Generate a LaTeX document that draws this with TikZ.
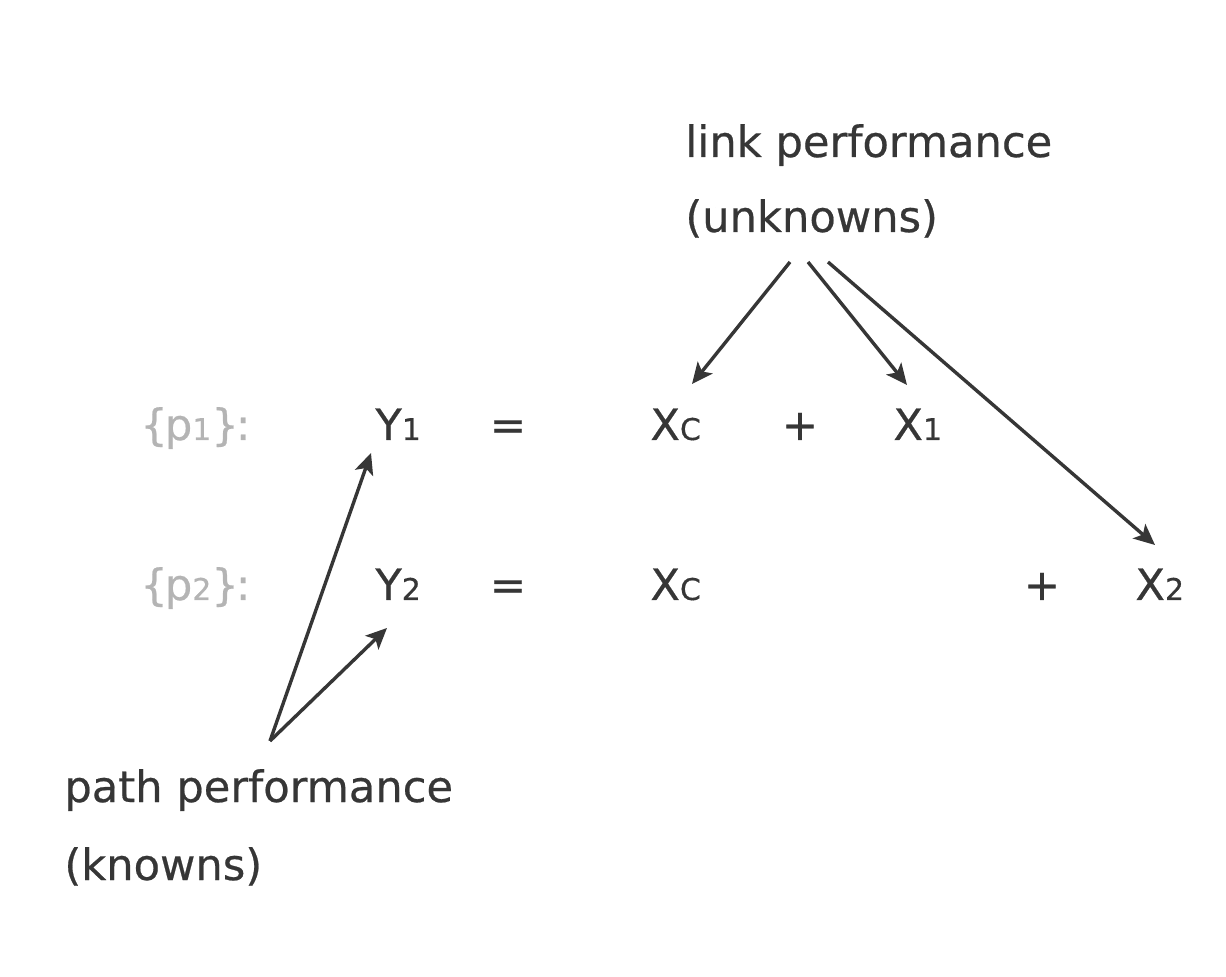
\documentclass[tikz,border=0pt]{standalone}
\usepackage{fontspec}
\setmainfont{DejaVu Sans}
\newfontfamily\labelfont{DejaVu Sans}[FakeBold=0.5]
\usetikzlibrary{arrows.meta}
\definecolor{ink}{HTML}{363636}
\definecolor{faint}{HTML}{B4B4B4}
\newcommand{\subs}[1]{{\fontsize{15}{15}\selectfont #1}}
\newcommand{\pset}[1]{\{\kern-1.5pt p\subs{#1}\}\kern-1.5pt:}
\begin{document}
\begin{tikzpicture}[x=0.5pt,y=-0.5pt,
  txt/.style={inner sep=0pt,anchor=base west,text=ink,font=\labelfont\fontsize{21.6}{25}\selectfont},
  ctxt/.style={txt,anchor=base},
  gtxt/.style={txt,text=faint},
  arr/.style={draw=ink,line width=1.7pt,-{Stealth[length=10.5pt,width=9.5pt,inset=2.5pt]}}]
\useasboundingbox (0,0) rectangle (1226,977);
% top label
\node[txt] (lp) at (685,157) {link performance};
\node[txt] (unk) at (685,232) {(unknowns)};
% row 1
\node[gtxt] (p1) at (140,440) {\pset{1}};
\node[txt] (Y1) at (375,440) {Y\subs{1}};
\node[ctxt] (eq1) at (508,440) {=};
\node[txt] (Xc1) at (650,440) {X\subs{C}};
\node[ctxt] (pl1) at (800,440) {+};
\node[txt] (X1) at (893,440) {X\subs{1}};
% row 2
\node[gtxt] (p2) at (140,600) {\pset{2}};
\node[txt] (Y2) at (375,600) {Y\subs{2}};
\node[ctxt] (eq2) at (508,600) {=};
\node[txt] (Xc2) at (650,600) {X\subs{C}};
\node[ctxt] (pl2) at (1042,600) {+};
\node[txt] (X2) at (1135,600) {X\subs{2}};
% bottom label
\node[txt] (path) at (64,802) {path performance};
\node[txt] (kn) at (64,880) {(knowns)};
% connector points
\coordinate (s1) at ([shift={(105,30)}]unk.base west);
\coordinate (s2) at ([shift={(123,30)}]unk.base west);
\coordinate (s3) at ([shift={(143,30)}]unk.base west);
\coordinate (b) at ([shift={(206,-61)}]path.base west);
\draw[arr] (s1) -- ([shift={(42,-56)}]Xc1.base west);
\draw[arr] (s2) -- ([shift={(14,-55)}]X1.base west);
\draw[arr] (s3) -- ([shift={(20,-55)}]X2.base west);
\draw[arr] (b) -- ([shift={(-4,13)}]Y1.base west);
\draw[arr] (b) -- ([shift={(12,28)}]Y2.base west);
\end{tikzpicture}
\end{document}
